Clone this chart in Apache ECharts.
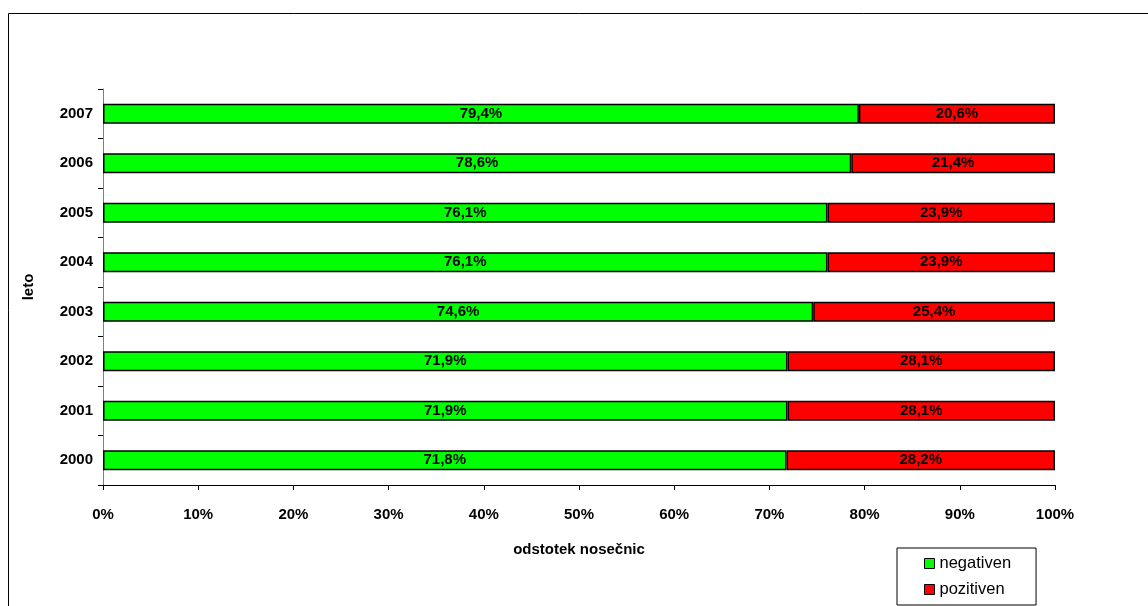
<!DOCTYPE html>
<html>
<head>
<meta charset="utf-8">
<script src="https://cdn.jsdelivr.net/npm/echarts@6/dist/echarts.min.js"></script>
<style>html,body{margin:0;padding:0;background:#fff}#c{width:1148px;height:606px}</style>
</head>
<body>
<div id="c"></div>
<script>
const years = ['2000','2001','2002','2003','2004','2005','2006','2007'];
const negativen = [71.8, 71.9, 71.9, 74.6, 76.1, 76.1, 78.6, 79.4];
const pozitiven = [28.2, 28.1, 28.1, 25.4, 23.9, 23.9, 21.4, 20.6];
const xTicks = [0,10,20,30,40,50,60,70,80,90,100];

const FONT = '"Liberation Sans", Arial, sans-serif';
const chart = echarts.init(document.getElementById('c'));
const lbl = {
  show: true, position: 'inside', color: '#000', fontWeight: 'bold',
  fontFamily: FONT, fontSize: 15,
  formatter: p => p.value.toFixed(1).replace('.', ',') + '%'
};
chart.setOption({
  animation: false,
  backgroundColor: '#fff',
  graphic: [{
    type: 'rect', shape: {x: 8.5, y: 13.5, width: 1200, height: 700},
    style: {fill: 'none', stroke: '#000', lineWidth: 1}, silent: true, z: -10
  }],
  grid: {left: 103, right: 93, top: 89, bottom: 121},
  legend: {
    orient: 'vertical', left: 897, top: 548,
    data: ['negativen', 'pozitiven'],
    borderColor: '#000', borderWidth: 1, backgroundColor: '#fff',
    padding: [7, 25, 7, 27], itemGap: 9,
    itemWidth: 10, itemHeight: 10, icon: 'rect',
    textStyle: {fontFamily: FONT, fontSize: 16.5, color: '#000'},
    itemStyle: {borderColor: '#000', borderWidth: 1}
  },
  xAxis: {
    type: 'value', min: 0, max: 100, interval: 10,
    name: 'odstotek nosečnic', nameLocation: 'middle', nameGap: 57,
    nameTextStyle: {fontFamily: FONT, fontSize: 15, fontWeight: 'bold', color: '#000'},
    axisLine: {show: true, lineStyle: {color: '#000', width: 1}},
    axisTick: {show: true, length: 5, lineStyle: {color: '#000'}},
    splitLine: {show: false},
    axisLabel: {
      margin: 22, fontFamily: FONT, fontSize: 15, fontWeight: 'bold', color: '#000',
      formatter: v => xTicks.includes(v) ? v + '%' : ''
    }
  },
  yAxis: {
    type: 'category', data: years,
    name: 'leto', nameLocation: 'middle', nameGap: 67, nameRotate: 90,
    nameTextStyle: {fontFamily: FONT, fontSize: 15, fontWeight: 'bold', color: '#000'},
    axisLine: {show: true, lineStyle: {color: '#808080', width: 1}},
    axisTick: {show: true, length: 5, alignWithLabel: false, lineStyle: {color: '#000'}},
    axisLabel: {margin: 10, fontFamily: FONT, fontSize: 15, fontWeight: 'bold', color: '#000'}
  },
  series: [
    {name: 'negativen', type: 'bar', stack: 's', data: negativen, barWidth: 20,
     itemStyle: {color: '#00FF00', borderColor: '#000', borderWidth: 1.5}, label: lbl},
    {name: 'pozitiven', type: 'bar', stack: 's', data: pozitiven, barWidth: 20,
     itemStyle: {color: '#FF0000', borderColor: '#000', borderWidth: 1.5}, label: lbl}
  ]
});
</script>
</body>
</html>
